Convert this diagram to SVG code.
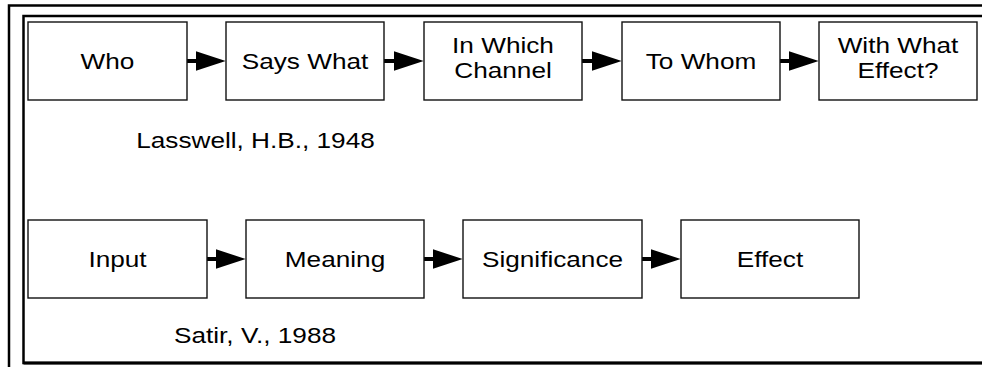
<svg xmlns="http://www.w3.org/2000/svg" width="982" height="367" viewBox="0 0 982 367">
<style>
.box{fill:#fff;stroke:#111;stroke-width:1.4}
.t{font-family:"Liberation Sans",Arial,sans-serif;font-size:22px;fill:#000;text-anchor:middle}
.frame{fill:none;stroke:#000}
.conn{stroke:#000;stroke-width:4;stroke-linecap:round;fill:none;marker-end:url(#ah)}
</style>
<defs>
<marker id="ah" markerUnits="userSpaceOnUse" markerWidth="30" markerHeight="20" viewBox="0 0 29 19" refX="9" refY="9.5" orient="auto">
<path d="M0,0 L29,9.5 L0,19 Z" fill="#000"/>
</marker>
</defs>
<rect x="0" y="0" width="982" height="367" fill="#fff"/>
<g id="frame">
<path class="frame" d="M9,367 V5.5 H982" stroke-width="2.5"/>
<path class="frame" d="M982,16 H23.5 V363 H982" stroke-width="2.5"/>
<path class="frame" d="M23.5,363 H982" stroke-width="3"/>
</g>
<g id="connectors">
<line class="conn" x1="187" y1="61" x2="205" y2="61"/>
<line class="conn" x1="384" y1="61" x2="403" y2="61"/>
<line class="conn" x1="582" y1="61" x2="601" y2="61"/>
<line class="conn" x1="780" y1="61" x2="798" y2="61"/>
<line class="conn" x1="207" y1="259" x2="225" y2="259"/>
<line class="conn" x1="424" y1="259" x2="442" y2="259"/>
<line class="conn" x1="642" y1="259" x2="660" y2="259"/>
</g>
<g id="who"><rect class="box" x="28" y="22" width="159" height="78"/>
<text class="t" transform="matrix(1.19 0 0 1 107.5 69)">Who</text></g>
<g id="says-what"><rect class="box" x="226" y="22" width="158" height="78"/>
<text class="t" transform="matrix(1.19 0 0 1 305 69)">Says What</text></g>
<g id="in-which-channel"><rect class="box" x="424" y="22" width="158" height="78"/>
<text class="t" transform="matrix(1.19 0 0 1 503 53)">In Which</text>
<text class="t" transform="matrix(1.19 0 0 1 503 78)">Channel</text></g>
<g id="to-whom"><rect class="box" x="622" y="22" width="158" height="78"/>
<text class="t" transform="matrix(1.19 0 0 1 701 69)">To Whom</text></g>
<g id="with-what-effect"><rect class="box" x="819" y="22" width="158" height="78"/>
<text class="t" transform="matrix(1.19 0 0 1 898 53)">With What</text>
<text class="t" transform="matrix(1.19 0 0 1 898 78)">Effect?</text></g>
<g id="lasswell"><text class="t" transform="matrix(1.19 0 0 1 255.5 148)">Lasswell, H.B., 1948</text></g>
<g id="input"><rect class="box" x="28" y="220" width="179" height="78"/>
<text class="t" transform="matrix(1.19 0 0 1 117.5 267)">Input</text></g>
<g id="meaning"><rect class="box" x="246" y="220" width="178" height="78"/>
<text class="t" transform="matrix(1.19 0 0 1 335 267)">Meaning</text></g>
<g id="significance"><rect class="box" x="463" y="220" width="179" height="78"/>
<text class="t" transform="matrix(1.19 0 0 1 552.5 267)">Significance</text></g>
<g id="effect"><rect class="box" x="681" y="220" width="178" height="78"/>
<text class="t" transform="matrix(1.19 0 0 1 770 267)">Effect</text></g>
<g id="satir"><text class="t" transform="matrix(1.19 0 0 1 255 343)">Satir, V., 1988</text></g>
</svg>
